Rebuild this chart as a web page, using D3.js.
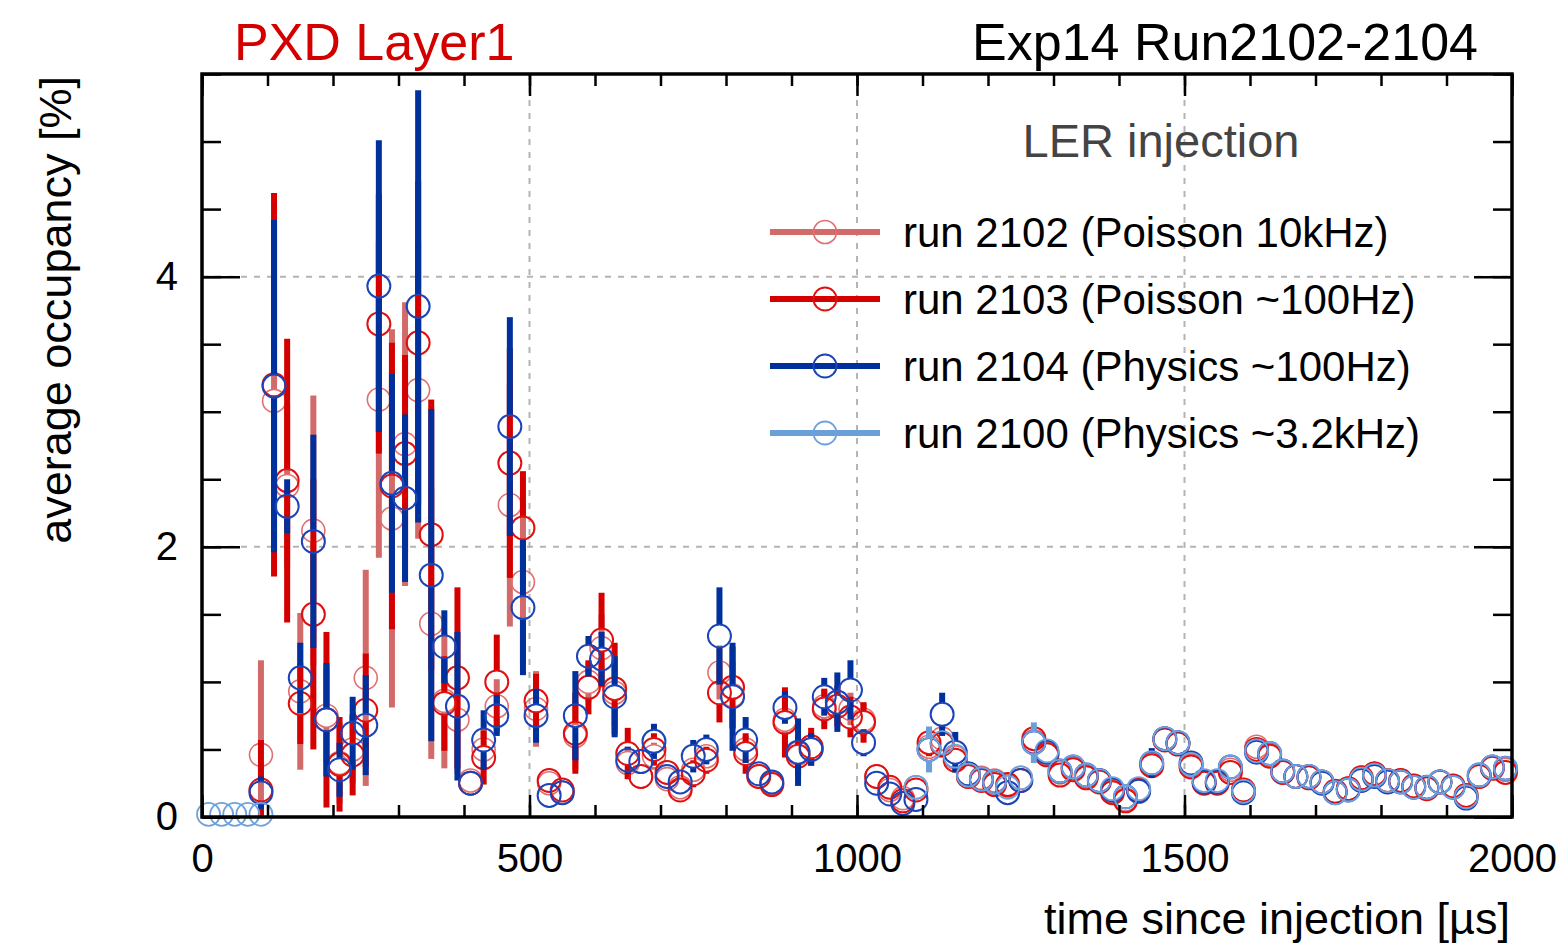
<!DOCTYPE html>
<html>
<head>
<meta charset="utf-8">
<title>PXD Layer1 average occupancy</title>
<script src="https://cdn.jsdelivr.net/npm/d3@7"></script>
<style>
  body { margin: 0; background: #fff; }
  text { font-family: "Liberation Sans", Arial, sans-serif; }
</style>
</head>
<body>
<svg id="chart" width="1563" height="948"></svg>
<script>
// bin centres, time since injection [us]
const bins = [10,30,50,70,90,110,130,150,170,190,210,230,250,270,290,310,330,350,370,390,
  410,430,450,470,490,510,530,550,570,590,610,630,650,670,690,710,730,750,770,790,
  810,830,850,870,890,910,930,950,970,990,1010,1030,1050,1070,1090,1110,1130,1150,1170,1190,
  1210,1230,1250,1270,1290,1310,1330,1350,1370,1390,1410,1430,1450,1470,1490,1510,1530,1550,1570,1590,
  1610,1630,1650,1670,1690,1710,1730,1750,1770,1790,1810,1830,1850,1870,1890,1910,1930,1950,1970,1990];

// run 2102 (Poisson 10kHz)
const run2102 = [null,null,null,null,0.46,3.08,2.45,0.93,2.12,0.75,0.40,0.50,1.03,3.09,2.21,2.76,3.16,1.43,0.86,0.72,
  0.27,0.50,0.82,2.31,1.74,0.80,0.25,0.18,0.60,1.00,1.25,0.92,0.40,0.30,0.45,0.28,0.22,0.35,0.45,1.07,
  0.90,0.50,0.30,0.25,0.72,0.47,0.50,0.82,0.85,0.80,0.72,0.30,0.20,0.14,0.22,0.52,0.58,0.44,0.30,0.29,
  0.27,0.23,0.29,0.56,0.47,0.33,0.36,0.30,0.27,0.19,0.13,0.20,0.39,0.58,0.55,0.38,0.26,0.26,0.35,0.20,
  0.52,0.46,0.33,0.30,0.30,0.26,0.19,0.21,0.29,0.32,0.27,0.27,0.23,0.22,0.26,0.23,0.16,0.30,0.37,0.35];
const run2102Err = [null,null,null,null,0.70,0.60,0.60,0.58,1.00,0.35,0.30,0.25,0.80,1.17,1.40,1.05,1.10,1.00,0.50,0.40,
  0.05,0.15,0.20,0.90,0.60,0.28,0.05,0.05,0.25,0.15,0.25,0.25,0.12,0.05,0.10,0.06,0.05,0.08,0.08,0.20,
  0.25,0.10,0.05,0.05,0.20,0.12,0.10,0.12,0.10,0.12,0.12,0.05,0.04,0.04,0.04,0.06,0.06,0.05,0.04,0.04,
  0.04,0.04,0.04,0.06,0.05,0.04,0.04,0.04,0.04,0.04,0.04,0.04,0.04,0.04,0.04,0.04,0.04,0.04,0.04,0.04,
  0.05,0.04,0.04,0.04,0.04,0.04,0.04,0.04,0.04,0.04,0.04,0.04,0.04,0.04,0.04,0.04,0.04,0.04,0.04,0.04];

// run 2103 (Poisson ~100Hz)
const run2103 = [null,null,null,null,0.20,3.20,2.49,0.84,1.50,0.72,0.39,0.46,0.79,3.65,2.45,2.69,3.51,2.09,0.84,1.03,
  0.25,0.44,1.00,2.62,2.14,0.86,0.27,0.20,0.62,0.96,1.31,0.95,0.47,0.30,0.50,0.33,0.20,0.32,0.42,0.92,
  0.96,0.47,0.30,0.24,0.70,0.45,0.52,0.80,0.82,0.74,0.70,0.30,0.22,0.12,0.20,0.55,0.54,0.42,0.30,0.27,
  0.24,0.24,0.27,0.58,0.46,0.31,0.35,0.29,0.26,0.18,0.12,0.20,0.38,0.57,0.54,0.37,0.25,0.25,0.33,0.20,
  0.50,0.45,0.33,0.30,0.29,0.26,0.19,0.21,0.29,0.32,0.27,0.27,0.23,0.21,0.26,0.23,0.16,0.30,0.36,0.33];
const run2103Err = [null,null,null,null,0.37,1.42,1.05,0.30,1.00,0.65,0.35,0.30,0.42,0.96,1.06,0.73,1.20,1.00,0.35,0.67,
  0.06,0.20,0.35,0.85,0.42,0.20,0.06,0.05,0.30,0.20,0.35,0.34,0.19,0.07,0.12,0.07,0.06,0.10,0.10,0.22,
  0.30,0.15,0.06,0.05,0.26,0.15,0.14,0.15,0.15,0.15,0.15,0.06,0.05,0.04,0.05,0.10,0.10,0.08,0.05,0.05,
  0.05,0.05,0.05,0.08,0.06,0.05,0.05,0.04,0.04,0.04,0.04,0.04,0.05,0.05,0.05,0.05,0.04,0.05,0.05,0.05,
  0.08,0.05,0.04,0.04,0.04,0.04,0.04,0.04,0.04,0.04,0.04,0.04,0.04,0.04,0.04,0.04,0.04,0.04,0.04,0.04];

// run 2104 (Physics ~100Hz)
const run2104 = [null,null,null,null,0.18,3.19,2.30,1.03,2.04,0.72,0.35,0.62,0.68,3.93,2.47,2.36,3.78,1.79,1.26,0.82,
  0.25,0.57,0.75,2.89,1.55,0.75,0.16,0.18,0.75,1.19,1.17,0.89,0.42,0.41,0.56,0.30,0.26,0.45,0.50,1.34,
  0.89,0.57,0.32,0.26,0.81,0.48,0.50,0.89,0.85,0.94,0.55,0.25,0.17,0.10,0.13,0.50,0.76,0.48,0.32,0.28,
  0.26,0.18,0.27,0.55,0.48,0.34,0.37,0.31,0.27,0.20,0.15,0.19,0.40,0.58,0.55,0.40,0.26,0.26,0.37,0.18,
  0.48,0.47,0.34,0.30,0.30,0.25,0.18,0.20,0.27,0.30,0.26,0.26,0.22,0.22,0.26,0.22,0.14,0.31,0.37,0.36];
const run2104Err = [null,null,null,null,0.12,1.23,0.20,0.26,0.79,0.42,0.20,0.27,0.37,1.08,0.81,0.62,1.60,1.23,0.27,0.55,
  0.06,0.22,0.15,0.81,0.50,0.20,0.05,0.05,0.33,0.15,0.20,0.30,0.10,0.08,0.13,0.07,0.06,0.12,0.11,0.36,
  0.40,0.17,0.07,0.05,0.12,0.25,0.12,0.14,0.22,0.22,0.10,0.05,0.05,0.04,0.05,0.08,0.16,0.15,0.05,0.05,
  0.04,0.05,0.05,0.10,0.06,0.05,0.05,0.04,0.04,0.04,0.04,0.04,0.11,0.05,0.05,0.05,0.04,0.06,0.05,0.05,
  0.05,0.05,0.04,0.04,0.04,0.04,0.04,0.04,0.04,0.04,0.04,0.04,0.04,0.04,0.04,0.04,0.04,0.04,0.04,0.04];

// run 2100 (Physics ~3.2kHz)
const run2100 = [0.02,0.02,0.02,0.02,0.02,null,null,null,null,null,null,null,null,null,null,null,null,null,null,null,
  null,null,null,null,null,null,null,null,null,null,null,null,null,null,null,null,null,null,null,null,
  null,null,null,null,null,null,null,null,null,null,null,null,null,null,0.22,0.50,0.55,0.45,0.31,0.28,
  0.26,0.22,0.29,0.55,0.49,0.34,0.37,0.31,0.27,0.21,0.15,0.21,0.40,0.58,0.55,0.39,0.27,0.27,0.37,0.19,
  0.49,0.47,0.34,0.30,0.30,0.26,0.18,0.20,0.28,0.31,0.27,0.26,0.22,0.22,0.26,0.22,0.15,0.31,0.37,0.36];
const run2100Err = [0.02,0.02,0.02,0.02,0.02,null,null,null,null,null,null,null,null,null,null,null,null,null,null,null,
  null,null,null,null,null,null,null,null,null,null,null,null,null,null,null,null,null,null,null,null,
  null,null,null,null,null,null,null,null,null,null,null,null,null,null,0.04,0.17,0.08,0.06,0.04,0.04,
  0.04,0.04,0.04,0.15,0.05,0.04,0.04,0.04,0.04,0.04,0.04,0.04,0.06,0.04,0.04,0.04,0.04,0.04,0.07,0.04,
  0.04,0.04,0.04,0.04,0.04,0.04,0.04,0.04,0.04,0.04,0.04,0.04,0.04,0.04,0.04,0.04,0.04,0.04,0.04,0.04];

const legendLabels = ["run 2102 (Poisson 10kHz)", "run 2103 (Poisson ~100Hz)",
                      "run 2104 (Physics ~100Hz)", "run 2100 (Physics ~3.2kHz)"];

// drawing order = legend order
const series = [
  {vals: run2102, errs: run2102Err, bar: "#d36a6a", mark: "#e07070", mw: 1.6},
  {vals: run2103, errs: run2103Err, bar: "#d40000", mark: "#e01010", mw: 2},
  {vals: run2104, errs: run2104Err, bar: "#00309c", mark: "#1a44b8", mw: 2},
  {vals: run2100, errs: run2100Err, bar: "#6a9fd8", mark: "#6fa2dc", mw: 1.8}
];

const svg = d3.select("#chart");
const L = 202, R = 1512, T = 74, B = 817;
const x = d3.scaleLinear().domain([0, 2000]).range([L, R]);
const y = d3.scaleLinear().domain([0, 5.5]).range([B, T]);
const rad = 11.5;

// grid
const grid = svg.append("g").attr("stroke", "#b4b4b4").attr("stroke-width", 2).attr("stroke-dasharray", "6,7");
[500, 1000, 1500].forEach(v => grid.append("line").attr("x1", x(v)).attr("x2", x(v)).attr("y1", T).attr("y2", B));
[2, 4].forEach(v => grid.append("line").attr("x1", L).attr("x2", R).attr("y1", y(v)).attr("y2", y(v)));

// data
const clipBar = v => Math.max(0, Math.min(5.5, v));
series.forEach(s => {
  const g = svg.append("g");
  const pts = bins.map((t, i) => ({t, v: s.vals[i], e: s.errs[i]})).filter(d => d.v !== null);
  pts.forEach(d => {
    const cy = y(d.v), yt = y(clipBar(d.v + d.e)), yb = y(clipBar(d.v - d.e));
    if (yt < cy - rad) g.append("line").attr("x1", x(d.t)).attr("x2", x(d.t))
      .attr("y1", yt).attr("y2", cy - rad).attr("stroke", s.bar).attr("stroke-width", 6);
    if (yb > cy + rad) g.append("line").attr("x1", x(d.t)).attr("x2", x(d.t))
      .attr("y1", cy + rad).attr("y2", yb).attr("stroke", s.bar).attr("stroke-width", 6);
  });
  g.selectAll("circle").data(pts).join("circle")
    .attr("cx", d => x(d.t)).attr("cy", d => y(d.v)).attr("r", rad)
    .attr("fill", "none").attr("stroke", s.mark).attr("stroke-width", s.mw);
});

// axes with inward ticks
const minorX = d3.range(0, 2001, 100), majorX = [0, 500, 1000, 1500, 2000];
const minorY = d3.range(0, 5.51, 0.5), majorY = [0, 2, 4];
function styleAxis(g) {
  g.select(".domain").remove();
  g.selectAll("line").attr("stroke", "#000").attr("stroke-width", 2.5);
}
svg.append("g").attr("transform", `translate(0,${B})`)
  .call(d3.axisBottom(x).tickValues(minorX).tickSize(-12).tickFormat("")).call(styleAxis);
svg.append("g").attr("transform", `translate(0,${B})`)
  .call(d3.axisBottom(x).tickValues(majorX).tickSize(-22).tickPadding(27).tickFormat(d3.format("d")))
  .call(styleAxis)
  .selectAll("text").attr("font-size", 40).attr("fill", "#000");
svg.append("g").attr("transform", `translate(0,${T})`)
  .call(d3.axisTop(x).tickValues(minorX).tickSize(-12).tickFormat("")).call(styleAxis);
svg.append("g").attr("transform", `translate(0,${T})`)
  .call(d3.axisTop(x).tickValues(majorX).tickSize(-22).tickFormat("")).call(styleAxis);
svg.append("g").attr("transform", `translate(${L},0)`)
  .call(d3.axisLeft(y).tickValues(minorY).tickSize(-19).tickFormat("")).call(styleAxis);
svg.append("g").attr("transform", `translate(${L},0)`)
  .call(d3.axisLeft(y).tickValues(majorY).tickSize(-38).tickPadding(24).tickFormat(d3.format("d")))
  .call(styleAxis)
  .selectAll("text").attr("font-size", 40).attr("fill", "#000");
svg.append("g").attr("transform", `translate(${R},0)`)
  .call(d3.axisRight(y).tickValues(minorY).tickSize(-19).tickFormat("")).call(styleAxis);
svg.append("g").attr("transform", `translate(${R},0)`)
  .call(d3.axisRight(y).tickValues(majorY).tickSize(-38).tickFormat("")).call(styleAxis);

// frame
svg.append("rect").attr("x", L).attr("y", T).attr("width", R - L).attr("height", B - T)
  .attr("fill", "none").attr("stroke", "#000").attr("stroke-width", 3.5);

// titles
svg.append("text").attr("x", 234).attr("y", 60).attr("font-size", 52).attr("fill", "#d40000").text("PXD Layer1");
svg.append("text").attr("x", 1478).attr("y", 60).attr("font-size", 52).attr("text-anchor", "end")
  .attr("fill", "#000").text("Exp14 Run2102-2104");
svg.append("text").attr("x", 1510).attr("y", 934).attr("font-size", 45).attr("text-anchor", "end")
  .text("time since injection [\u00b5s]");
svg.append("text").attr("transform", "translate(71,76) rotate(-90)").attr("font-size", 45)
  .attr("text-anchor", "end").text("average occupancy [%]");

// legend
svg.append("text").attr("x", 1161).attr("y", 157).attr("font-size", 47).attr("text-anchor", "middle")
  .attr("fill", "#444").text("LER injection");
const lg = svg.append("g");
series.forEach((s, i) => {
  const ly = 232 + i * 67;
  lg.append("line").attr("x1", 770).attr("x2", 880).attr("y1", ly).attr("y2", ly)
    .attr("stroke", s.bar).attr("stroke-width", 6);
  lg.append("circle").attr("cx", 825).attr("cy", ly).attr("r", rad).attr("fill", "none")
    .attr("stroke", s.mark).attr("stroke-width", s.mw);
  lg.append("text").attr("x", 903).attr("y", ly + 15).attr("font-size", 42).attr("fill", "#000")
    .text(legendLabels[i]);
});
</script>
</body>
</html>
